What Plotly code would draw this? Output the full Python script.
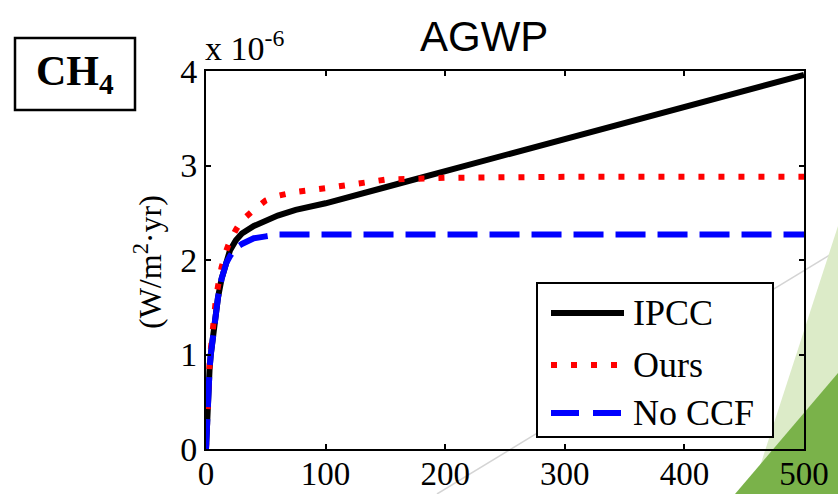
import plotly.graph_objects as go

# ---- data ----
years_ipcc = [0, 1, 2, 3, 4, 6, 8, 10, 13, 17, 20, 25, 30, 40, 50, 60, 75, 100, 150, 200, 250, 300, 350, 400, 450, 500]
agwp_ipcc = [0, 0.40, 0.65, 0.85, 1.00, 1.25, 1.45, 1.60, 1.80, 2.00, 2.10, 2.21, 2.28, 2.36, 2.42, 2.47, 2.53, 2.60, 2.77, 2.94, 3.11, 3.28, 3.45, 3.62, 3.79, 3.96]

years_ours = [0, 1, 2, 3, 4, 6, 8, 10, 13, 17, 20, 25, 30, 40, 50, 60, 75, 100, 125, 150, 200, 250, 300, 350, 400, 450, 500]
agwp_ours = [0, 0.42, 0.70, 0.90, 1.05, 1.35, 1.55, 1.72, 1.92, 2.10, 2.20, 2.32, 2.42, 2.53, 2.63, 2.68, 2.72, 2.76, 2.81, 2.85, 2.87, 2.88, 2.88, 2.88, 2.88, 2.88, 2.88]

years_noccf = [0, 1, 2, 3, 4, 6, 8, 10, 13, 17, 20, 25, 30, 40, 50, 60, 75, 100, 200, 300, 400, 500]
agwp_noccf = [0, 0.40, 0.65, 0.85, 1.00, 1.25, 1.45, 1.60, 1.80, 1.97, 2.04, 2.13, 2.17, 2.23, 2.25, 2.27, 2.27, 2.27, 2.27, 2.27, 2.27, 2.27]

series_names = ["IPCC", "Ours", "No CCF"]
x_ticks = [0, 100, 200, 300, 400, 500]
y_ticks = [0, 1, 2, 3, 4]

SERIF = "Liberation Serif"

fig = go.Figure()
fig.add_trace(go.Scatter(x=years_ipcc, y=agwp_ipcc, mode="lines", name=series_names[0],
                         line=dict(color="black", width=6)))
fig.add_trace(go.Scatter(x=years_ours, y=agwp_ours, mode="lines", name=series_names[1],
                         line=dict(color="#ff0000", width=6, dash="6px,14px")))
fig.add_trace(go.Scatter(x=years_noccf, y=agwp_noccf, mode="lines", name=series_names[2],
                         line=dict(color="#0000ff", width=6, dash="30px,12px")))

W, H = 838, 494
L, R, T, B = 206, 34, 71, 45
pw, ph = W - L - R, H - T - B

def px(x):
    return (x - L) / pw

def py(y):
    return (H - B - y) / ph

shapes = []
# decorative slide background
shapes.append(dict(type="line", xref="paper", yref="paper", x0=px(437), y0=py(494), x1=px(838), y1=py(250),
                   line=dict(color="#d4d4d4", width=1.5), layer="below"))
shapes.append(dict(type="path", xref="paper", yref="paper",
                   path=f"M {px(838)} {py(226)} L {px(838)} {py(494)} L {px(751)} {py(494)} Z",
                   fillcolor="#dcebc8", line=dict(width=0), layer="below"))
shapes.append(dict(type="path", xref="paper", yref="paper",
                   path=f"M {px(838)} {py(373)} L {px(838)} {py(494)} L {px(735)} {py(494)} Z",
                   fillcolor="#7ab24a", line=dict(width=0), layer="below"))
# CH4 box
shapes.append(dict(type="rect", xref="paper", yref="paper", x0=px(15), x1=px(135), y0=py(110), y1=py(38),
                   line=dict(color="black", width=2.5), fillcolor="white"))
# legend box
shapes.append(dict(type="rect", xref="paper", yref="paper", x0=px(537), x1=px(773), y0=py(437), y1=py(283),
                   line=dict(color="black", width=2), fillcolor="white", layer="above"))
leg_y = [313, 365, 413]
leg_styles = [dict(color="black", width=6),
              dict(color="#ff0000", width=6, dash="6px,14px"),
              dict(color="#0000ff", width=6, dash="28px,14px")]
annotations = []
for name, yy, st in zip(series_names, leg_y, leg_styles):
    shapes.append(dict(type="line", xref="paper", yref="paper", x0=px(551), x1=px(624), y0=py(yy), y1=py(yy),
                       line=st, layer="above"))
    annotations.append(dict(xref="paper", yref="paper", x=px(631), y=py(yy), text=name, showarrow=False,
                            xanchor="left", yanchor="middle", font=dict(family=SERIF, size=36, color="black")))

annotations += [
    dict(xref="paper", yref="paper", x=px(484), y=py(37), text="AGWP", showarrow=False,
         xanchor="center", yanchor="middle", font=dict(family="Liberation Sans", size=42, color="black")),
    dict(xref="paper", yref="paper", x=px(203), y=py(69), text="x 10<sup>-6</sup>", showarrow=False,
         xanchor="left", yanchor="bottom", font=dict(family=SERIF, size=34, color="black")),
    dict(xref="paper", yref="paper", x=px(148), y=py(262), text="(W/m<sup>2</sup>·yr)", showarrow=False,
         textangle=-90, xanchor="center", yanchor="middle", font=dict(family=SERIF, size=32, color="black")),
    dict(xref="paper", yref="paper", x=px(75), y=py(74), text="<b>CH<sub>4</sub></b>", showarrow=False,
         xanchor="center", yanchor="middle", font=dict(family=SERIF, size=42, color="black")),
]

axis_common = dict(showgrid=False, zeroline=False, showline=True, linecolor="black", linewidth=2,
                   mirror="allticks", ticks="inside", ticklen=5, tickwidth=1.5, tickcolor="black",
                   automargin=False)

fig.update_layout(
    width=W, height=H,
    margin=dict(l=L, r=R, t=T, b=B, pad=0, autoexpand=False),
    paper_bgcolor="white", plot_bgcolor="white",
    showlegend=False,
    xaxis=dict(range=[0, 500], tickvals=x_ticks, ticktext=[str(v) for v in x_ticks],
               ticklabelstandoff=-6, tickfont=dict(family=SERIF, size=33, color="black"), **axis_common),
    yaxis=dict(range=[0, 4], tickvals=y_ticks, ticktext=[str(v) for v in y_ticks],
               tickfont=dict(family=SERIF, size=34, color="black"), **axis_common),
    shapes=shapes,
    annotations=annotations,
)

fig.write_html("out.html", config={"displayModeBar": False},
               post_script="document.body.style.margin='0';document.body.style.overflow='hidden';")
